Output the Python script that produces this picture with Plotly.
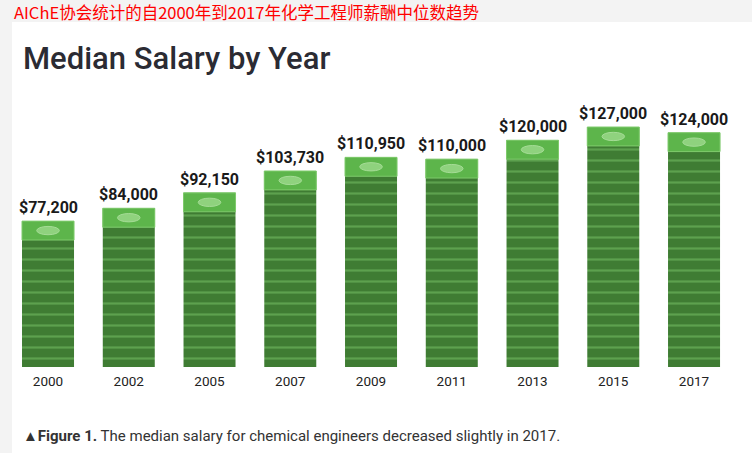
import plotly.graph_objects as go

years = ["2000", "2002", "2005", "2007", "2009", "2011", "2013", "2015", "2017"]
salary = [77200, 84000, 92150, 103730, 110950, 110000, 120000, 127000, 124000]
labels = ["$77,200", "$84,000", "$92,150", "$103,730", "$110,950",
          "$110,000", "$120,000", "$127,000", "$124,000"]

font = "Roboto, sans-serif"
idx = list(range(len(years)))
cap = 10000  # height of the top bill

fig = go.Figure()

# the stack of bills
fig.add_trace(go.Bar(
    x=idx, y=salary,
    marker=dict(
        color="#3f7c33",
        line=dict(color="#3f7c33", width=0),
        pattern=dict(shape="-", size=11, solidity=0.2,
                     fgcolor="#7cc56a", bgcolor="#3f7c33"),
    ),
    hoverinfo="skip",
))

# top bill
fig.add_trace(go.Bar(
    x=idx, y=[cap] * len(salary), base=[s - cap for s in salary],
    marker=dict(color="#5db54b", line=dict(color="#7fcb6c", width=1)),
    hoverinfo="skip",
))

# oval on each top bill + value labels
for i, s, lab in zip(idx, salary, labels):
    fig.add_shape(type="circle", xref="x", yref="y",
                  x0=i - 0.14, x1=i + 0.14, y0=s - 7200, y1=s - 2800,
                  fillcolor="#8fd27e", line=dict(color="#a5dc96", width=1),
                  layer="above")
    fig.add_annotation(x=i, y=s, text=lab, showarrow=False,
                       yanchor="bottom", yshift=2,
                       font=dict(family=font, size=16, color="#1a1a1a", weight="bold"))

# white panel
fig.add_shape(type="rect", xref="paper", yref="paper",
              x0=0, x1=1.05, y0=-0.4, y1=1.292,
              fillcolor="white", line_width=0, layer="below")

fig.add_annotation(text="AIChE协会统计的自2000年到2017年化学工程师薪酬中位数趋势",
                   xref="paper", yref="paper", x=0, y=1.3296,
                   xanchor="left", yanchor="middle", showarrow=False,
                   font=dict(family="Noto Sans CJK SC", size=16.5, color="#ff0000"))
fig.add_annotation(text="Median Salary by Year",
                   xref="paper", yref="paper", x=0.012, y=1.157,
                   xanchor="left", yanchor="middle", showarrow=False,
                   font=dict(family=font, size=31, color="#2b2b33", weight=500))
fig.add_annotation(text="<b>▲Figure 1.</b> The median salary for chemical engineers decreased slightly in 2017.",
                   xref="paper", yref="paper", x=0.012, y=-0.258,
                   xanchor="left", yanchor="middle", showarrow=False,
                   font=dict(family=font, size=15, color="#333333"))

fig.update_layout(
    width=752, height=453,
    margin=dict(l=12, r=10, t=100, b=86),
    barmode="overlay", bargap=0.356,
    showlegend=False,
    paper_bgcolor="#f3f3f3", plot_bgcolor="white",
)
fig.update_xaxes(range=[-0.446, 8.594], tickvals=idx, ticktext=years,
                 showgrid=False, zeroline=False, showline=False, ticks="",
                 ticklabelstandoff=4,
                 tickfont=dict(family=font, size=13.5, color="#222222"))
fig.update_yaxes(range=[0, 141300], visible=False)

# drop the page's default body margin so the figure sits at the window corner
fig.write_html("out.html", config={"displayModeBar": False},
               post_script="document.body.style.margin='0';")
